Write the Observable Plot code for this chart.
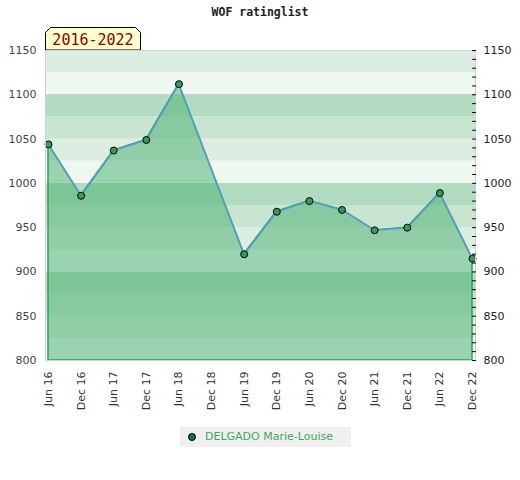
<!DOCTYPE html>
<html><head><meta charset="utf-8">
<script src="https://cdn.jsdelivr.net/npm/d3@7"></script>
<script src="https://cdn.jsdelivr.net/npm/@observablehq/plot@0.6"></script>
<style>
body{margin:0;background:#fff;font-family:"DejaVu Sans",sans-serif;}
#wrap{position:relative;width:520px;height:480px;}
#title{position:absolute;top:5px;left:0;width:520px;text-align:center;font:bold 11.5px "DejaVu Sans Mono",monospace;color:#222;}
#chart{position:absolute;top:0;left:0;}
#period{position:absolute;left:45px;top:27px;width:96px;height:23px;}
#legend{position:absolute;left:180px;top:427px;width:171px;height:20px;background:#f0f0f0;font:11px "DejaVu Sans",sans-serif;color:#3aaa5c;}
#legend .dot{position:absolute;left:8px;top:6px;width:6px;height:6px;border-radius:50%;background:#1f6e3c;border:1px solid #000;}
#legend .lab{position:absolute;left:25px;top:3px;white-space:nowrap;}
</style></head>
<body>
<div id="wrap">
  <div id="chart"></div>
  <div id="title">WOF ratinglist</div>
  <svg id="period" width="96" height="23" viewBox="0 0 96 23">
    <polygon points="0.5,23 0.5,5.5 5.5,0.5 90.5,0.5 95.5,5.5 95.5,23" fill="#ffffcc" stroke="#000" stroke-width="1"/>
    <text x="48" y="18" text-anchor="middle" font-family="DejaVu Sans Mono, monospace" font-size="15" fill="#8b0000">2016-2022</text>
  </svg>
  <div id="legend"><span class="dot"></span><span class="lab">DELGADO Marie-Louise</span></div>
</div>
<script>
const periods = ["Jun 16","Dec 16","Jun 17","Dec 17","Jun 18","Dec 18","Jun 19","Dec 19","Jun 20","Dec 20","Jun 21","Dec 21","Jun 22","Dec 22"];
const ratedPeriods = ["Jun 16","Dec 16","Jun 17","Dec 17","Jun 18","Jun 19","Dec 19","Jun 20","Dec 20","Jun 21","Dec 21","Jun 22","Dec 22"];
const ratings = [1044,986,1037,1049,1112,920,968,980,970,947,950,989,915];
const yTicks = [800,850,900,950,1000,1050,1100,1150];
const minorTicks = [800,810,820,830,840,850,860,870,880,890,900,910,920,930,940,950,960,970,980,990,1000,1010,1020,1030,1040,1050,1060,1070,1080,1090,1100,1110,1120,1130,1140,1150];
const bandStarts = [800,825,850,875,900,925,950,975,1000,1025,1050,1075,1100,1125];
const bandLevels = [0,25,50,75];
const bandColors = ["#eff7f1","#dcede1","#c8e5d2","#b2dcc1"];

const data = ratedPeriods.map((p,i)=>({p, r: ratings[i]}));
const bands = bandStarts.map(s=>({lo:s, hi:s+25, lvl:s%100}));

const tickLine = {draw(context, l) { context.moveTo(0, 0); context.lineTo(0, -l); }};

const chart = Plot.plot({
  width: 520, height: 420,
  marginLeft: 45, marginRight: 45, marginTop: 50, marginBottom: 60,
  style: {fontFamily: "DejaVu Sans, sans-serif", fontSize: "11px", color: "#333", background: "transparent", overflow: "visible"},
  x: {type: "point", domain: periods, padding: 0, inset: 3, round: false, label: null},
  y: {domain: [800, 1150], label: null},
  color: {type: "ordinal", domain: bandLevels, range: bandColors},
  marks: [
    Plot.rect(bands, {y1: "lo", y2: "hi", fill: "lvl"}),
    Plot.ruleY([1100], {stroke: "#cccccc"}),
    Plot.areaY(data, {x: "p", y1: 800, y2: "r", fill: "#45b06e", fillOpacity: 0.5, stroke: "#2ea35a", strokeWidth: 1.5, curve: "linear"}),
    Plot.line(data, {x: "p", y: "r", stroke: "#5b9bd5", strokeWidth: 1.5}),
    Plot.dot(data, {x: "p", y: "r", r: 3.5, fill: "#2e9e58", stroke: "#000", strokeWidth: 1}),
    Plot.frame({stroke: "#d0d0d0"}),
    Plot.vector(minorTicks, {y: d => d, frameAnchor: "right", length: 3, rotate: -90, anchor: "start", shape: tickLine, stroke: "#000", strokeWidth: 1}),
    Plot.axisY(yTicks, {anchor: "left", tickSize: 0, tickPadding: 9, fill: "#444", tickFormat: d => String(d)}),
    Plot.axisY(yTicks, {anchor: "right", tickSize: 0, tickPadding: 8, fill: "#222", tickFormat: d => String(d)}),
    Plot.axisX(periods, {anchor: "bottom", tickSize: 0, tickPadding: 11, tickRotate: -90, fill: "#333"})
  ]
});
document.getElementById("chart").appendChild(chart);
</script>
</body></html>
